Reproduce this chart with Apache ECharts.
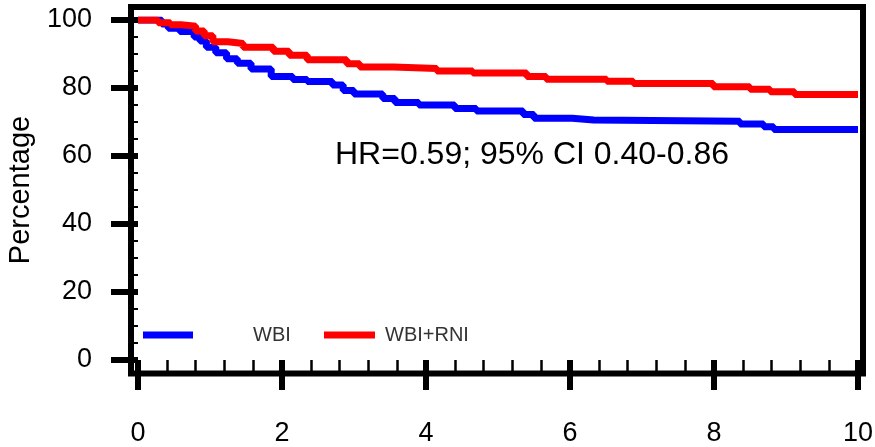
<!DOCTYPE html>
<html>
<head>
<meta charset="utf-8">
<script src="https://cdn.jsdelivr.net/npm/echarts@6/dist/echarts.min.js"></script>
<style>
  html, body { margin: 0; padding: 0; background: #fff; }
  #chart { width: 875px; height: 447px; }
</style>
</head>
<body>
<div id="chart"></div>
<script>
// Kaplan-Meier style survival curves (percentage vs years)
const xTicks = [0, 2, 4, 6, 8, 10];
const yTicks = [0, 20, 40, 60, 80, 100];

// WBI arm: time points where the curve steps, and the level held from there on
const wbiTimes  = [0, 0.33, 0.42, 0.58, 0.78, 0.86, 0.95, 1.08, 1.23, 1.38, 1.57, 1.85, 2.15, 2.35, 2.7, 2.85, 3.0, 3.4, 3.57, 3.9, 4.4, 4.7, 5.35, 5.5, 6.03, 6.33, 8.36, 8.69, 8.83, 10];
const wbiValues = [100, 98.8, 97.6, 96.6, 95.0, 93.8, 92.0, 90.4, 88.6, 87.3, 85.6, 83.4, 82.5, 81.9, 80.9, 79.3, 78.2, 76.9, 75.7, 75.0, 74.0, 73.2, 72.2, 71.1, 70.6, 70.2, 69.4, 68.6, 67.8, 67.8];

// WBI+RNI arm
const rniTimes  = [0, 0.28, 0.45, 0.6, 0.8, 0.92, 1.04, 1.25, 1.46, 1.88, 2.1, 2.35, 2.9, 3.08, 3.55, 4.15, 4.65, 5.4, 5.67, 6.51, 6.88, 7.99, 8.5, 8.78, 9.12, 10];
const rniValues = [100, 99.2, 98.6, 98.2, 96.8, 95.4, 93.6, 93.1, 92.0, 90.8, 89.6, 88.3, 87.1, 86.2, 85.7, 85.0, 84.4, 83.4, 82.6, 82.0, 81.3, 80.4, 79.6, 78.9, 78.1, 78.1];

const seriesNames = ['WBI', 'WBI+RNI'];
const seriesColors = ['#0000ff', '#ff0000'];
const annotation = 'HR=0.59; 95% CI 0.40-0.86';

const zip = (xs, ys) => xs.map((x, i) => [x, ys[i]]);
const FONT = '"Liberation Sans", Arial, sans-serif';

const chart = echarts.init(document.getElementById('chart'), null, { renderer: 'canvas' });

chart.setOption({
  animation: false,
  backgroundColor: '#fff',
  grid: [
    // data area
    { left: 138, right: 17, top: 20, bottom: 87, show: false, containLabel: false, outerBoundsMode: 'none' },
    // surrounding frame
    { left: 131, right: 12, top: 7, bottom: 73.5, show: true, borderColor: '#000', borderWidth: 6,
      backgroundColor: 'transparent', containLabel: false, outerBoundsMode: 'none' }
  ],
  xAxis: [
    {
      type: 'value', gridIndex: 0, min: xTicks[0], max: xTicks[xTicks.length - 1], interval: 2,
      offset: 13.5,
      axisLine: { show: false },
      axisTick: { show: true, length: 30, inside: false, lineStyle: { color: '#000', width: 6 } },
      minorTick: { show: true, splitNumber: 5, length: 11, lineStyle: { color: '#000', width: 2.5 } },
      splitLine: { show: false },
      minorSplitLine: { show: false },
      axisLabel: { margin: 47, color: '#000', fontSize: 27, fontFamily: FONT }
    },
    { type: 'value', gridIndex: 1, show: false, min: 0, max: 1 }
  ],
  yAxis: [
    {
      type: 'value', gridIndex: 0, min: yTicks[0], max: yTicks[yTicks.length - 1], interval: 20,
      offset: 7,
      name: 'Percentage', nameLocation: 'middle', nameGap: 96, nameRotate: 90,
      nameTextStyle: { color: '#000', fontSize: 29, fontFamily: FONT },
      axisLine: { show: false },
      axisTick: { show: true, length: 27, lineStyle: { color: '#000', width: 6 } },
      minorTick: { show: true, splitNumber: 4, length: 8, lineStyle: { color: '#000', width: 2 } },
      splitLine: { show: false },
      minorSplitLine: { show: false },
      axisLabel: { margin: 39, color: '#000', fontSize: 27, fontFamily: FONT }
    },
    { type: 'value', gridIndex: 1, show: false, min: 0, max: 1 }
  ],
  legend: [
    {
      data: [seriesNames[0]], left: 143, top: 325, padding: 0, icon: 'rect', itemWidth: 50, itemHeight: 7,
      textStyle: { color: '#333', fontSize: 20, fontFamily: FONT, padding: [8, 0, 0, 55] }
    },
    {
      data: [seriesNames[1]], left: 324, top: 325, padding: 0, icon: 'rect', itemWidth: 51, itemHeight: 7,
      textStyle: { color: '#333', fontSize: 20, fontFamily: FONT, padding: [8, 0, 0, 5] }
    }
  ],
  graphic: [
    {
      type: 'text', left: 335, top: 139,
      style: { text: annotation, fill: '#000', font: '32px ' + FONT }
    }
  ],
  series: [
    {
      name: seriesNames[0], type: 'line', step: 'end', xAxisIndex: 0, yAxisIndex: 0,
      showSymbol: false, color: seriesColors[0],
      lineStyle: { width: 7, color: seriesColors[0] },
      data: zip(wbiTimes, wbiValues)
    },
    {
      name: seriesNames[1], type: 'line', step: 'end', xAxisIndex: 0, yAxisIndex: 0,
      showSymbol: false, color: seriesColors[1],
      lineStyle: { width: 7, color: seriesColors[1] },
      data: zip(rniTimes, rniValues)
    }
  ]
});
</script>
</body>
</html>
